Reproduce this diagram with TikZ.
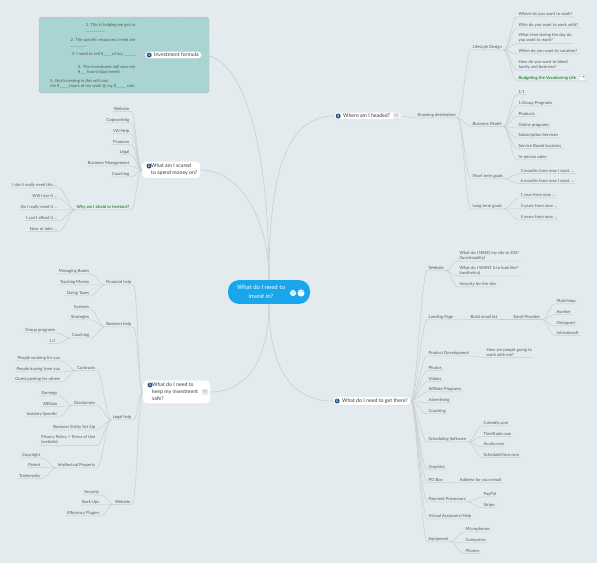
\documentclass[tikz,border=0pt]{standalone}
\usepackage{fontspec}
\setmainfont{Lato}
\usetikzlibrary{positioning,shadows}
\definecolor{bgcol}{RGB}{228,235,238}
\definecolor{linkgray}{RGB}{198,206,210}
\definecolor{leafgray}{RGB}{88,88,88}
\definecolor{leafgreen}{RGB}{46,138,58}
\definecolor{rootblue}{RGB}{26,166,236}
\definecolor{numblue}{RGB}{38,82,132}
\definecolor{tealfill}{RGB}{168,212,210}
\definecolor{tealedge}{RGB}{226,150,150}
\definecolor{pilltext}{RGB}{60,60,60}
\newcommand\leaffont{\fontsize{4.2}{5.3}\selectfont}
\newcommand\pillfont{\fontsize{5.2}{6.8}\selectfont}

\begin{document}
\begin{tikzpicture}[x=1pt,y=-1pt,
  leaf/.style={font=\leaffont,text=leafgray,inner xsep=1.5pt,inner ysep=0.8pt,align=left},
  lleaf/.style={leaf,anchor=east},
  rleaf/.style={leaf,anchor=west},
  keyleaf/.style={font=\leaffont\bfseries,text=leafgreen},
  pill/.style={fill=white,rounded corners=4pt,text=pilltext,font=\pillfont,inner xsep=3pt,inner ysep=1.5pt,
    anchor=west,drop shadow={shadow xshift=0pt,shadow yshift=-0.6pt,opacity=0.12}},
  root/.style={fill=rootblue,text=white,rounded corners=11pt,minimum height=23pt,minimum width=82pt,
    inner xsep=5pt,font=\fontsize{6}{8.6}\selectfont},
  numdot/.style={circle,fill=numblue,text=white,inner sep=0pt,minimum size=5pt,
    font=\fontsize{3.5}{4}\selectfont\bfseries},
  iconbtn/.style={circle,fill=white,draw=linkgray,line width=0.3pt,inner sep=0pt,minimum size=5.5pt,
    text=leafgray,font=\fontsize{4}{4}\selectfont},
  link/.style={draw=linkgray,line width=0.5pt},
  trunk/.style={link,line width=0.6pt},
  rl/.style={link,to path={(\tikztostart.#1) .. controls +(5,0) and +(-5,0) ..
    (\tikztotarget.south west) -- (\tikztotarget.south east)}},
  rl/.default=south east,
  ll/.style={link,to path={(\tikztostart.#1) .. controls +(-5,0) and +(5,0) ..
    (\tikztotarget.south east) -- (\tikztotarget.south west)}},
  ll/.default=south west,
  tealbox/.style={fill=tealfill,draw=tealedge,dashed,dash pattern=on 2pt off 1.5pt,line width=0.4pt,rounded corners=3pt}
]
  \useasboundingbox (0,0) rectangle (597,563);
  \fill[bgcol] (0,0) rectangle (597,563);
  \draw[tealbox] (39,17) rectangle (209,93);

  % centre
  \node[root] (root) at (269,292) {\begin{tabular}{@{}c@{}}What do I need to\\invest in?\end{tabular}\hspace{16pt}\mbox{}};
  \node[iconbtn,text=rootblue,draw=none] (root-note) at (293,293) {$\equiv$};
  \node[iconbtn,text=rootblue,draw=none] (root-go) at (301,293) {$\rightarrow$};

  % main topics
  \node[pill] (inv) at (145,55) {\hspace{6pt}Investment formula};
  \node[numdot,right=1.5pt of inv.west] (inv-n) {1};
  \node[pill] (scared) at (142,170) {\hspace{6pt}\begin{tabular}{@{}l@{}}What am I scared\\to spend money on?\end{tabular}};
  \node[numdot] (scared-n) at (149,166) {2};
  \node[pill] (safe) at (143,392) {\hspace{6pt}\begin{tabular}{@{}l@{}}What do I need to\\keep my investment\\safe?\end{tabular}\hspace{9pt}\mbox{}};
  \node[numdot] (safe-n) at (150,385) {3};
  \node[iconbtn,left=2pt of safe.east] (safe-note) {$\equiv$};
  \node[pill] (where) at (334,116) {\hspace{6pt}Where am I headed?\hspace{8pt}\mbox{}};
  \node[numdot,right=1.5pt of where.west] (where-n) {4};
  \node[iconbtn,left=2pt of where.east] (where-note) {$\equiv$};
  \node[pill] (there) at (333,401) {\hspace{6pt}What do I need to get there?};
  \node[numdot,right=1.5pt of there.west] (there-n) {5};

  \draw[trunk] (root.north) .. controls +(0,-140) and +(40,0) .. (inv.east);
  \draw[trunk] (root.north) .. controls +(0,-60) and +(40,0) .. (scared.east);
  \draw[trunk] (root.north) .. controls +(0,-100) and +(-50,0) .. (where.west);
  \draw[trunk] (root.south) .. controls +(0,50) and +(40,0) .. (safe.east);
  \draw[trunk] (root.south) .. controls +(0,50) and +(-50,0) .. (there.west);

  % 1 investment formula
  \node[lleaf] (i1) at (137,27.5) {1. This is helping me get to\\\_\_\_\_\_\_\_\_\_\_.};
  \node[lleaf] (i2) at (137,42.5) {2. The specific resources I need are\\\_\_\_\_\_\_\_\_.};
  \node[lleaf] (i3) at (137,54) {3. I need to sell \#\_\_\_\_ of my \_\_\_\_\_\_};
  \node[lleaf] (i4) at (137,69.5) {4. This investment will save me\\\#\_\_\_ hours/(day/week)};
  \node[lleaf] (i5) at (137,84) {5. Not investing in this will cost\\me \#\_\_\_\_\_hours of my work @ my \$\_\_\_\_\_ rate.};
  \draw[ll=west] (inv) to (i1);
  \draw[ll=west] (inv) to (i2);
  \draw[ll=west] (inv) to (i3);
  \draw[ll=west] (inv) to (i4);
  \draw[ll=west] (inv) to (i5);

  % 2 scared
  \node[lleaf] (s-web) at (131,109) {Website};
  \node[lleaf] (s-copy) at (131,120) {Copywriting};
  \node[lleaf] (s-va) at (131,131) {VA/Help};
  \node[lleaf] (s-fin) at (131,142) {Finances};
  \node[lleaf] (s-legal) at (131,152) {Legal};
  \node[lleaf] (s-bm) at (131,163) {Business Management};
  \node[lleaf] (s-coach) at (131,174) {Coaching};
  \node[lleaf,keyleaf] (s-why) at (131,207) {Why am I afraid or hesitant?};
  \node[lleaf] (w-need) at (59,185) {I don't really need this \dots};
  \node[lleaf] (w-use) at (59,196) {Will I use it \dots};
  \node[lleaf] (w-really) at (59,207) {Do I really need it \dots};
  \node[lleaf] (w-afford) at (59,218) {I can't afford it \dots};
  \node[lleaf] (w-later) at (59,229) {Now or later \dots};
  \draw[ll=west] (scared) to (s-web);
  \draw[ll=west] (scared) to (s-copy);
  \draw[ll=west] (scared) to (s-va);
  \draw[ll=west] (scared) to (s-fin);
  \draw[ll=west] (scared) to (s-legal);
  \draw[ll=west] (scared) to (s-bm);
  \draw[ll=west] (scared) to (s-coach);
  \draw[ll=west] (scared) to (s-why);
  \draw[ll] (s-why) to (w-need);
  \draw[ll] (s-why) to (w-use);
  \draw[ll] (s-why) to (w-really);
  \draw[ll] (s-why) to (w-afford);
  \draw[ll] (s-why) to (w-later);

  % 3 keep it safe
  \node[lleaf] (f-help) at (133,282) {Financial help};
  \node[lleaf] (fh-books) at (91,271) {Managing Books};
  \node[lleaf] (fh-money) at (91,282) {Tracking Money};
  \node[lleaf] (fh-taxes) at (91,293) {Doing Taxes};
  \node[lleaf] (b-help) at (133,324) {Business help};
  \node[lleaf] (bh-sys) at (91,307) {Systems};
  \node[lleaf] (bh-strat) at (91,317) {Strategies};
  \node[lleaf] (bh-coach) at (91,335) {Coaching};
  \node[lleaf] (bc-group) at (57,330) {Group programs};
  \node[lleaf] (bc-one) at (57,341) {1:1};
  \node[lleaf] (l-help) at (133,417) {Legal help};
  \node[lleaf] (lh-contr) at (97,368) {Contracts};
  \node[lleaf] (c-work) at (62,358) {People working for you};
  \node[lleaf] (c-buy) at (62,369) {People buying from you};
  \node[lleaf] (c-guest) at (62,379) {Guest posting for others};
  \node[lleaf] (lh-discl) at (97,403) {Disclaimers};
  \node[lleaf] (d-earn) at (59,393) {Earnings};
  \node[lleaf] (d-aff) at (59,404) {Affiliate};
  \node[lleaf] (d-ind) at (59,414) {Industry Specific};
  \node[lleaf] (lh-entity) at (97,427) {Business Entity Set-Up};
  \node[lleaf] (lh-priv) at (97,440) {Privacy Policy + Terms of Use\\(website)};
  \node[lleaf] (lh-ip) at (97,465) {Intellectual Property};
  \node[lleaf] (ip-copy) at (42,455) {Copyright};
  \node[lleaf] (ip-pat) at (42,465) {Patent};
  \node[lleaf] (ip-trade) at (42,476) {Trademarks};
  \node[lleaf] (k-web) at (132,502) {Website};
  \node[lleaf] (kw-sec) at (101,492) {Security};
  \node[lleaf] (kw-back) at (101,502) {Back Ups};
  \node[lleaf] (kw-eff) at (101,513) {Efficiency Plugins};
  \draw[ll=west] (safe) to (f-help);
  \draw[ll=west] (safe) to (b-help);
  \draw[ll=west] (safe) to (l-help);
  \draw[ll=west] (safe) to (k-web);
  \draw[ll] (f-help) to (fh-books);
  \draw[ll] (f-help) to (fh-money);
  \draw[ll] (f-help) to (fh-taxes);
  \draw[ll] (b-help) to (bh-sys);
  \draw[ll] (b-help) to (bh-strat);
  \draw[ll] (b-help) to (bh-coach);
  \draw[ll] (bh-coach) to (bc-group);
  \draw[ll] (bh-coach) to (bc-one);
  \draw[ll] (l-help) to (lh-contr);
  \draw[ll] (l-help) to (lh-discl);
  \draw[ll] (l-help) to (lh-entity);
  \draw[ll] (l-help) to (lh-priv);
  \draw[ll] (l-help) to (lh-ip);
  \draw[ll] (lh-contr) to (c-work);
  \draw[ll] (lh-contr) to (c-buy);
  \draw[ll] (lh-contr) to (c-guest);
  \draw[ll] (lh-discl) to (d-earn);
  \draw[ll] (lh-discl) to (d-aff);
  \draw[ll] (lh-discl) to (d-ind);
  \draw[ll] (lh-ip) to (ip-copy);
  \draw[ll] (lh-ip) to (ip-pat);
  \draw[ll] (lh-ip) to (ip-trade);
  \draw[ll] (k-web) to (kw-sec);
  \draw[ll] (k-web) to (kw-back);
  \draw[ll] (k-web) to (kw-eff);

  % 4 where am I headed
  \node[rleaf] (kd) at (416,115) {Knowing destination};
  \node[rleaf] (lsd) at (471,47) {Lifestyle Design};
  \node[rleaf] (ls1) at (517,14) {Where do you want to work?};
  \node[rleaf] (ls2) at (517,25) {Who do you want to work with?};
  \node[rleaf] (ls3) at (517,38) {What time during the day do\\you want to work?};
  \node[rleaf] (ls4) at (517,51) {When do you want to vacation?};
  \node[rleaf] (ls5) at (517,64.5) {How do you want to blend\\family and business?};
  \node[rleaf,keyleaf] (ls6) at (517,78) {Budgeting the Vacationing Life\hspace{9pt}\mbox{}};
  \node[iconbtn,left=1pt of ls6.east] (ls6-go) {$\rightarrow$};
  \node[rleaf] (bmod) at (471,124) {Business Model};
  \node[rleaf] (bm1) at (517,92) {1:1};
  \node[rleaf] (bm2) at (517,103) {1:Group Programs};
  \node[rleaf] (bm3) at (517,114) {Products};
  \node[rleaf] (bm4) at (517,125) {Online programs};
  \node[rleaf] (bm5) at (517,135) {Subscription Services};
  \node[rleaf] (bm6) at (517,146) {Service Based business};
  \node[rleaf] (bm7) at (517,157) {In-person sales};
  \node[rleaf] (stg) at (471,176) {Short term goals};
  \node[rleaf] (st1) at (519,171) {3 months from now I want \dots};
  \node[rleaf] (st2) at (519,181) {6 months from now I want \dots};
  \node[rleaf] (ltg) at (471,206) {Long term goals};
  \node[rleaf] (lt1) at (519,195) {1 year from now \dots};
  \node[rleaf] (lt2) at (519,206) {3 years from now \dots};
  \node[rleaf] (lt3) at (519,217) {5 years from now \dots};
  \draw[rl=east] (where) to (kd);
  \draw[rl] (kd) to (lsd);
  \draw[rl] (kd) to (bmod);
  \draw[rl] (kd) to (stg);
  \draw[rl] (kd) to (ltg);
  \draw[rl] (lsd) to (ls1);
  \draw[rl] (lsd) to (ls2);
  \draw[rl] (lsd) to (ls3);
  \draw[rl] (lsd) to (ls4);
  \draw[rl] (lsd) to (ls5);
  \draw[rl] (lsd) to (ls6);
  \draw[rl] (bmod) to (bm1);
  \draw[rl] (bmod) to (bm2);
  \draw[rl] (bmod) to (bm3);
  \draw[rl] (bmod) to (bm4);
  \draw[rl] (bmod) to (bm5);
  \draw[rl] (bmod) to (bm6);
  \draw[rl] (bmod) to (bm7);
  \draw[rl] (stg) to (st1);
  \draw[rl] (stg) to (st2);
  \draw[rl] (ltg) to (lt1);
  \draw[rl] (ltg) to (lt2);
  \draw[rl] (ltg) to (lt3);

  % 5 get there
  \node[rleaf] (g-web) at (427,268) {Website};
  \node[rleaf] (gw1) at (458,255.5) {What do I NEED my site to DO?\\(functionality)};
  \node[rleaf] (gw2) at (458,270.5) {What do I WANT it to look like?\\(aesthetics)};
  \node[rleaf] (gw3) at (458,284) {Security for the site};
  \node[rleaf] (g-land) at (427,317) {Landing Page};
  \node[rleaf] (g-list) at (469,317) {Build email list};
  \node[rleaf] (g-prov) at (512,317) {Email Provider};
  \node[rleaf] (ep1) at (555,301) {Mailchimp};
  \node[rleaf] (ep2) at (555,312) {Aweber};
  \node[rleaf] (ep3) at (555,323) {Ontraport};
  \node[rleaf] (ep4) at (555,333) {Infusionsoft};
  \node[rleaf] (g-prod) at (427,353) {Product Development};
  \node[rleaf] (g-how) at (485,352.5) {How are people going to\\work with me?};
  \node[rleaf] (g-photo) at (427,368) {Photos};
  \node[rleaf] (g-video) at (427,379) {Videos};
  \node[rleaf] (g-aff) at (427,389) {Affiliate Programs};
  \node[rleaf] (g-adv) at (427,400) {Advertising};
  \node[rleaf] (g-coach) at (427,411) {Coaching};
  \node[rleaf] (g-sched) at (427,439) {Scheduling Software};
  \node[rleaf] (sc1) at (482,423) {Calendly.com};
  \node[rleaf] (sc2) at (482,434) {TimeTrade.com};
  \node[rleaf] (sc3) at (482,444) {Acuity.com};
  \node[rleaf] (sc4) at (482,455) {ScheduleOnce.com};
  \node[rleaf] (g-graph) at (427,467) {Graphics};
  \node[rleaf] (g-po) at (427,480) {PO Box};
  \node[rleaf] (g-addr) at (458,480) {Address for your email};
  \node[rleaf] (g-pay) at (427,499) {Payment Processors};
  \node[rleaf] (pp1) at (482,494) {PayPal};
  \node[rleaf] (pp2) at (482,505) {Stripe};
  \node[rleaf] (g-va) at (427,516) {Virtual Assistants/Help};
  \node[rleaf] (g-equip) at (427,539) {Equipment};
  \node[rleaf] (eq1) at (464,529) {Microphones};
  \node[rleaf] (eq2) at (464,540) {Computers};
  \node[rleaf] (eq3) at (464,551) {Phones};
  \draw[rl=east] (there) to (g-web);
  \draw[rl=east] (there) to (g-land);
  \draw[rl=east] (there) to (g-prod);
  \draw[rl=east] (there) to (g-photo);
  \draw[rl=east] (there) to (g-video);
  \draw[rl=east] (there) to (g-aff);
  \draw[rl=east] (there) to (g-adv);
  \draw[rl=east] (there) to (g-coach);
  \draw[rl=east] (there) to (g-sched);
  \draw[rl=east] (there) to (g-graph);
  \draw[rl=east] (there) to (g-po);
  \draw[rl=east] (there) to (g-pay);
  \draw[rl=east] (there) to (g-va);
  \draw[rl=east] (there) to (g-equip);
  \draw[rl] (g-web) to (gw1);
  \draw[rl] (g-web) to (gw2);
  \draw[rl] (g-web) to (gw3);
  \draw[rl] (g-land) to (g-list);
  \draw[rl] (g-list) to (g-prov);
  \draw[rl] (g-prov) to (ep1);
  \draw[rl] (g-prov) to (ep2);
  \draw[rl] (g-prov) to (ep3);
  \draw[rl] (g-prov) to (ep4);
  \draw[rl] (g-prod) to (g-how);
  \draw[rl] (g-sched) to (sc1);
  \draw[rl] (g-sched) to (sc2);
  \draw[rl] (g-sched) to (sc3);
  \draw[rl] (g-sched) to (sc4);
  \draw[rl] (g-po) to (g-addr);
  \draw[rl] (g-pay) to (pp1);
  \draw[rl] (g-pay) to (pp2);
  \draw[rl] (g-equip) to (eq1);
  \draw[rl] (g-equip) to (eq2);
  \draw[rl] (g-equip) to (eq3);
\end{tikzpicture}
\end{document}
